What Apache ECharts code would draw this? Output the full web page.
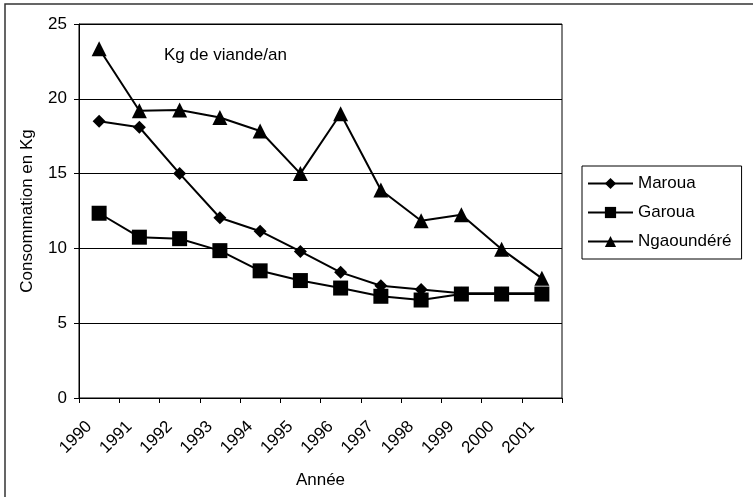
<!DOCTYPE html>
<html>
<head>
<meta charset="utf-8">
<script src="https://cdn.jsdelivr.net/npm/echarts@6/dist/echarts.min.js"></script>
<style>
    body {margin: 0;background: #fff;}
    #chart {width: 753px;height: 497px;}
</style>
</head>
<body>
<div id="chart"></div>
<script>
// années
var years = ['1990', '1991', '1992', '1993', '1994', '1995', '1996', '1997', '1998', '1999', '2000', '2001'];
// consommation en kg par ville
var maroua = [18.5, 18.1, 15.0, 12.05, 11.15, 9.8, 8.4, 7.5, 7.25, 7.0, 7.0, 7.0];
var garoua = [12.35, 10.75, 10.65, 9.85, 8.5, 7.85, 7.35, 6.8, 6.55, 6.95, 6.95, 6.95];
var ngaoundere = [23.35, 19.2, 19.25, 18.75, 17.85, 15.0, 19.0, 13.9, 11.85, 12.25, 9.95, 8.0];
var yTicks = [0, 5, 10, 15, 20, 25];

var font = 'Liberation Sans, Arial, sans-serif';
var myChart = echarts.init(document.getElementById('chart'));

function line(name, data, symbol, size) {
    return {
        name: name,
        type: 'line',
        data: data,
        symbol: symbol,
        symbolSize: size,
        lineStyle: {color: '#000', width: 2},
        itemStyle: {color: '#000'},
        animation: false
    };
}

myChart.setOption({
    animation: false,
    textStyle: {fontFamily: font},
    title: {
        text: 'Kg de viande/an',
        left: 159,
        top: 42,
        textStyle: {fontSize: 17, fontWeight: 'normal', color: '#000', fontFamily: font}
    },
    grid: {
        left: 79,
        right: 191,
        top: 24,
        bottom: 99,
        show: true,
        borderColor: '#000',
        borderWidth: 1
    },
    legend: {
        left: 582,
        top: 166,
        orient: 'vertical',
        data: ['Maroua', 'Garoua', 'Ngaoundéré'],
        itemWidth: 45,
        itemHeight: 14,
        itemGap: 12,
        padding: [9, 10, 9, 5],
        borderColor: '#000',
        borderWidth: 1,
        textStyle: {fontSize: 17, color: '#000', fontFamily: font}
    },
    xAxis: {
        type: 'category',
        data: years,
        boundaryGap: true,
        name: 'Année',
        nameLocation: 'middle',
        nameGap: 74,
        nameTextStyle: {fontSize: 17, color: '#000', fontFamily: font},
        axisLine: {lineStyle: {color: '#000', width: 1}},
        axisTick: {show: true, inside: false, length: 5, lineStyle: {color: '#000'}},
        axisLabel: {
            rotate: 45,
            margin: 16,
            padding: [0, 14, 0, 0],
            fontSize: 17,
            color: '#000',
            fontFamily: font
        },
        splitLine: {show: false}
    },
    yAxis: {
        type: 'value',
        min: yTicks[0],
        max: yTicks[yTicks.length - 1],
        interval: 5,
        name: 'Consommation en Kg',
        nameLocation: 'middle',
        nameGap: 43,
        nameTextStyle: {fontSize: 17, color: '#000', fontFamily: font},
        axisLine: {show: true, lineStyle: {color: '#000', width: 1}},
        axisTick: {show: true, length: 5, lineStyle: {color: '#000'}},
        axisLabel: {margin: 12, fontSize: 17, color: '#000', fontFamily: font},
        splitLine: {show: true, lineStyle: {color: '#000', width: 1}}
    },
    graphic: [
        {
            type: 'rect',
            shape: {x: 5, y: 4, width: 800, height: 600},
            style: {fill: 'none', stroke: '#333', lineWidth: 1.5},
            silent: true
        }
    ],
    series: [
        line('Maroua', maroua, 'diamond', 13),
        line('Garoua', garoua, 'rect', 15),
        line('Ngaoundéré', ngaoundere, 'triangle', 15)
    ]
});
</script>
</body>
</html>
